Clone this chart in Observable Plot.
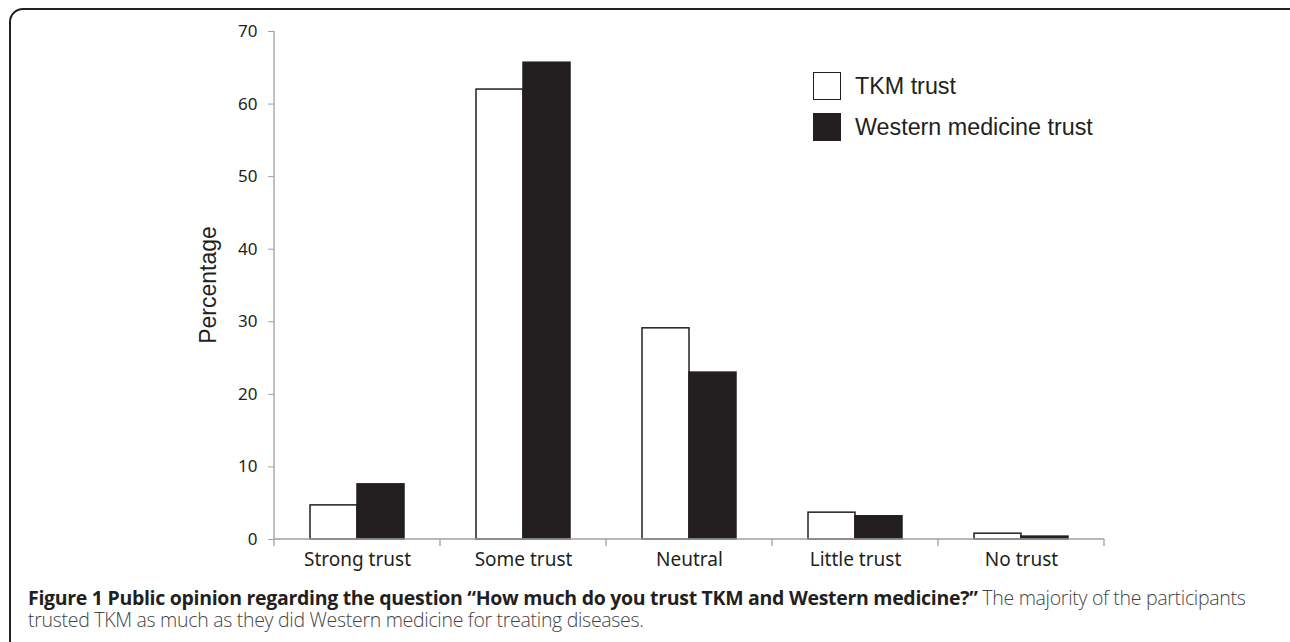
<!DOCTYPE html>
<html>
<head>
<meta charset="utf-8">
<script src="https://cdn.jsdelivr.net/npm/d3@7"></script>
<script src="https://cdn.jsdelivr.net/npm/@observablehq/plot@0.6"></script>
<style>
  html, body { margin: 0; padding: 0; background: #fff; width: 1290px; height: 642px; overflow: hidden; }
  #frame { position: absolute; left: 9px; top: 8px; width: 1300px; height: 700px;
           border: 2px solid #222; border-top-left-radius: 14px; box-sizing: border-box; }
  #chart { position: absolute; left: 0; top: 0; }
  #legend { position: absolute; left: 813px; top: 72px; font-family: "Liberation Sans", Arial, sans-serif;
            font-size: 23.3px; color: #231f20; }
  .li { display: flex; align-items: center; height: 28px; margin-bottom: 13px; }
  .sw { width: 26px; height: 26px; border: 1px solid #231f20; margin-right: 14px; }
  #caption { position: absolute; left: 28px; top: 587px; width: 1240px; font-family: "Open Sans", sans-serif;
             font-size: 19.5px; line-height: 22px; color: #231f20; letter-spacing: -0.3px; }
  #caption b { font-weight: 700; }
  #caption .rest { color: #444; font-weight: 300; }
</style>
</head>
<body>
<div id="frame"></div>
<div id="chart"></div>
<div id="legend"></div>
<div id="caption"><b>Figure 1 Public opinion regarding the question “How much do you trust TKM and Western medicine?”</b> <span class="rest">The majority of the participants trusted TKM as much as they did Western medicine for treating diseases.</span></div>
<script>
const categories = ["Strong trust", "Some trust", "Neutral", "Little trust", "No trust"];
const series = ["TKM trust", "Western medicine trust"];
const tkmValues = [4.7, 62.0, 29.1, 3.7, 0.8];
const westernValues = [7.6, 65.7, 23.0, 3.2, 0.4];
const yTicks = [0, 10, 20, 30, 40, 50, 60, 70];
const yLabel = "Percentage";
const seriesFill = ["#ffffff", "#231f20"];

const data = categories.flatMap((c, i) => [
  {category: c, series: series[0], value: tkmValues[i]},
  {category: c, series: series[1], value: westernValues[i]}
]);

const W = 1290, H = 580;
const plot = Plot.plot({
  width: W, height: H,
  marginLeft: 273, marginRight: 185, marginTop: 31, marginBottom: 41,
  style: {fontFamily: "'Noto Sans', sans-serif", fontSize: "17px", color: "#231f20", background: "transparent"},
  fx: {domain: categories, padding: 0, label: null},
  x: {domain: series, paddingInner: 0, paddingOuter: 0.733, axis: null},
  y: {domain: [0, 70], label: null},
  color: {domain: series, range: seriesFill},
  marks: [
    Plot.axisY({ticks: yTicks, tickSize: 6, tickPadding: 11, stroke: "#a0a0a0", label: null, fontSize: 17, color: "#231f20"}),
    Plot.axisFx({anchor: "bottom", tickSize: 0, tickPadding: 13, label: null, fontSize: 19, fill: "#231f20"}),
    Plot.barY(data, {fx: "category", x: "series", y: "value", fill: "series", stroke: "#231f20", strokeWidth: 1.5}),
  ]
});
document.getElementById("chart").appendChild(plot);

// axis lines & category separator ticks via library scales
const svg = d3.select(plot);
const fx = plot.scale("fx"), y = plot.scale("y");
const y0 = y.apply(0), yTop = y.apply(70);
const left = fx.apply(categories[0]);
const right = fx.apply(categories[categories.length - 1]) + fx.bandwidth;
const g = svg.append("g").attr("stroke", "#a0a0a0").attr("stroke-width", 1.3);
g.append("line").attr("x1", left).attr("x2", left).attr("y1", yTop).attr("y2", y0);
g.append("line").attr("x1", left).attr("x2", right).attr("y1", y0).attr("y2", y0);
const bounds = categories.map(c => fx.apply(c)).concat([right]);
bounds.forEach(b => g.append("line").attr("x1", b).attr("x2", b).attr("y1", y0).attr("y2", y0 + 7));
// y label
svg.append("text").attr("transform", `translate(216,${(y0 + yTop) / 2}) rotate(-90)`)
  .attr("text-anchor", "middle").attr("font-family", "'Liberation Sans', Arial, sans-serif")
  .attr("font-size", 23).attr("fill", "#231f20").text(yLabel);

// legend
const legend = d3.select("#legend");
series.forEach((s, i) => {
  const row = legend.append("div").attr("class", "li");
  row.append("div").attr("class", "sw").style("background", seriesFill[i]);
  row.append("span").text(s);
});
</script>
</body>
</html>
